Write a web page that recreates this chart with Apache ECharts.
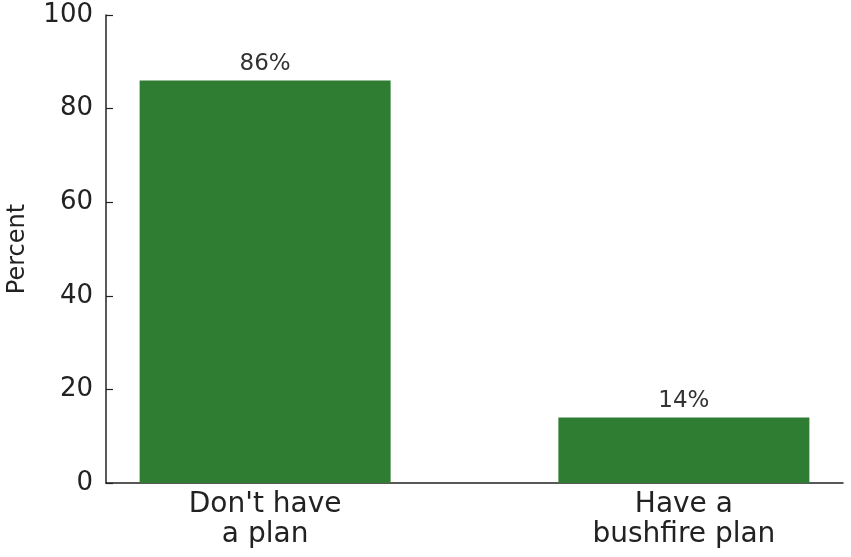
<!DOCTYPE html>
<html>
<head>
<meta charset="utf-8">
<script src="https://cdn.jsdelivr.net/npm/echarts@6/dist/echarts.min.js"></script>
<style>html,body{margin:0;padding:0;background:#fff}#c{width:851px;height:557px}</style>
</head>
<body>
<div id="c"></div>
<script>
var categories = ["Don't have\na plan", "Have a\nbushfire plan"];
var values = [86, 14];
var yTicks = [0, 20, 40, 60, 80, 100];

var chart = echarts.init(document.getElementById('c'), null, {renderer: 'canvas'});
var font = "'DejaVu Sans', sans-serif";
var positions = categories.map(function (_, i) { return i; });
chart.setOption({
  animation: false,
  grid: {left: 106, right: 8, top: 15, bottom: 74, containLabel: false, outerBoundsMode: 'none'},
  xAxis: {
    type: 'value', min: -0.38, max: 1.38,
    splitLine: {show: false},
    axisLine: {show: true, onZero: false, lineStyle: {color: '#222', width: 1.5}},
    axisTick: {show: true, inside: true, length: 6, customValues: positions, lineStyle: {color: '#222', width: 1.2}},
    axisLabel: {
      customValues: positions, margin: 7, color: '#222', fontFamily: font, fontSize: 28, lineHeight: 30,
      align: 'center',
      formatter: function (v) { return categories[Math.round(v)]; }
    }
  },
  yAxis: {
    type: 'value', min: 0, max: 100, interval: 20,
    name: 'Percent', nameLocation: 'middle', nameGap: 76,
    nameTextStyle: {color: '#222', fontFamily: font, fontSize: 24},
    splitLine: {show: false},
    axisLine: {show: true, onZero: false, lineStyle: {color: '#222', width: 1.5}},
    axisTick: {show: true, inside: true, length: 7, lineStyle: {color: '#222', width: 1.2}},
    axisLabel: {margin: 13, color: '#222', fontFamily: font, fontSize: 26, padding: [5, 0, 0, 0],
      formatter: function (v) { return yTicks.indexOf(v) >= 0 ? String(v) : ''; }}
  },
  series: [{
    type: 'bar',
    data: values.map(function (v, i) { return [positions[i], v]; }),
    barWidth: 251,
    itemStyle: {color: '#2e7d32'},
    label: {show: true, position: 'top', distance: 5, color: '#333', fontFamily: font, fontSize: 23,
      formatter: function (p) { return p.value[1] + '%'; }}
  }]
});
</script>
</body>
</html>
